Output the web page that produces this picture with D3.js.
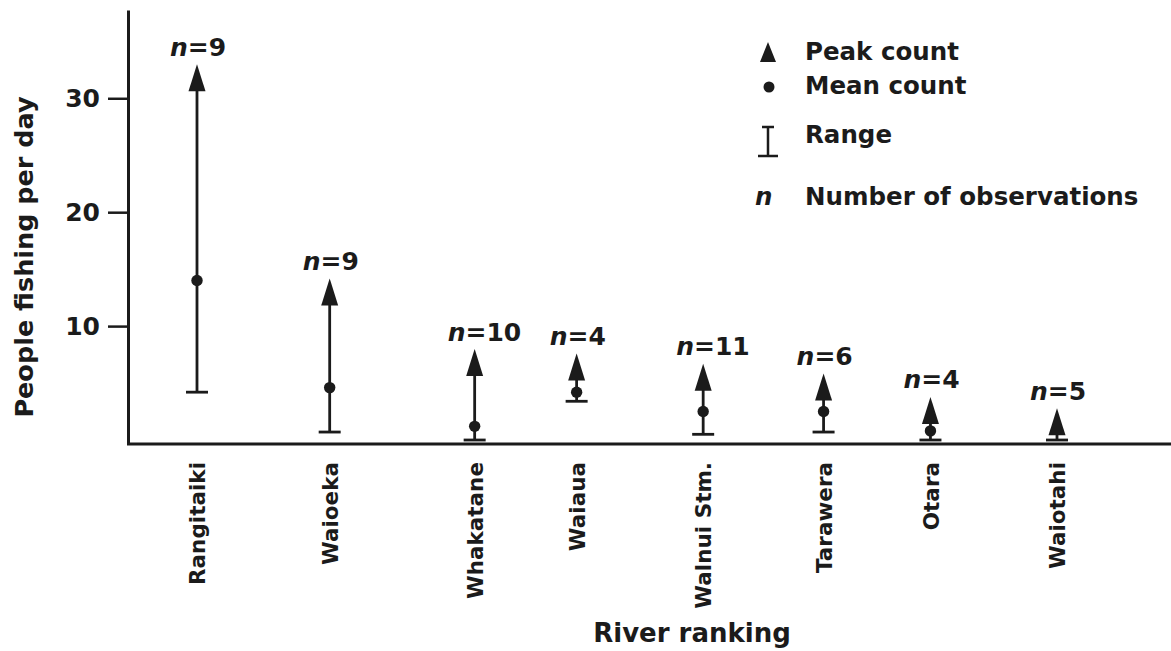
<!DOCTYPE html>
<html>
<head>
<meta charset="utf-8">
<script src="https://cdn.jsdelivr.net/npm/d3@7"></script>
<style>
  html, body { margin: 0; padding: 0; background: #fff; }
  svg { display: block; font-family: "DejaVu Sans", sans-serif; font-weight: bold; }
</style>
</head>
<body>
<svg id="chart" width="1171" height="651"></svg>
<script>
// Rivers in ranking order, with their position along the ranking axis
const rivers = ["Rangitaiki", "Waioeka", "Whakatane", "Waiaua", "Walnui Stm.", "Tarawera", "Otara", "Waiotahi"];
const rankPosition = [1, 2.08, 3.26, 4.09, 5.12, 6.1, 6.97, 8];

// People fishing per day
const peakCount = [31.8, 13.0, 6.8, 6.4, 5.5, 4.65, 2.6, 1.6];
const meanCount = [14.0, 4.6, 1.2, 4.2, 2.5, 2.5, 0.8, null];
const rangeMin  = [4.2, 0.7, 0, 3.4, 0.5, 0.7, 0, 0];
const observations = [9, 9, 10, 4, 11, 6, 4, 5];

const yTicks = [10, 20, 30];
const legendItems = ["Peak count", "Mean count", "Range", "Number of observations"];

const ink = "#1b1b1b";
const svg = d3.select("#chart");

const x = d3.scaleLinear().domain([1, 8]).range([197, 1057]);
const y = d3.scaleLinear().domain([-0.35, 37.75]).range([444, 10]);

const axisLeftX = 128;
const rows = rivers.map((r, i) => ({
  river: r, pos: rankPosition[i], peak: peakCount[i], mean: meanCount[i],
  min: rangeMin[i], n: observations[i]
}));

// Y axis (line + ticks)
const yAxis = svg.append("g")
  .attr("transform", `translate(${axisLeftX},0)`)
  .call(d3.axisLeft(y).tickValues(yTicks).tickSize(20).tickSizeOuter(0).tickPadding(8));
yAxis.select(".domain").attr("stroke", ink).attr("stroke-width", 3);
yAxis.selectAll(".tick line").attr("stroke", ink).attr("stroke-width", 2.5);
yAxis.selectAll(".tick text")
  .attr("fill", ink)
  .style("font-family", '"DejaVu Sans", sans-serif')
  .style("font-weight", "bold")
  .style("font-size", "25px");

// Baseline
svg.append("line")
  .attr("x1", axisLeftX - 1).attr("x2", 1171)
  .attr("y1", y(-0.35)).attr("y2", y(-0.35))
  .attr("stroke", ink).attr("stroke-width", 3);

// River labels, rotated
const xAxis = svg.append("g")
  .attr("transform", `translate(0,${y(-0.35)})`)
  .call(d3.axisBottom(x).tickValues(rankPosition).tickFormat((d, i) => rivers[i]).tickSize(0));
xAxis.select(".domain").remove();
xAxis.selectAll(".tick text")
  .attr("fill", ink)
  .attr("transform", "rotate(-90)")
  .attr("text-anchor", "end")
  .attr("x", -18).attr("y", 0).attr("dy", "0.36em")
  .style("font-family", '"DejaVu Sans", sans-serif')
  .style("font-weight", "bold")
  .style("font-size", "21.5px");

// Axis titles
svg.append("text")
  .attr("transform", `translate(33,257) rotate(-90)`)
  .attr("text-anchor", "middle")
  .attr("fill", ink)
  .style("font-size", "25.5px")
  .text("People fishing per day");

svg.append("text")
  .attr("x", 692).attr("y", 642)
  .attr("text-anchor", "middle")
  .attr("fill", ink)
  .style("font-size", "26px")
  .text("River ranking");

// Marks
const tri = "M0,-13.5L8.5,13.5L-8.5,13.5Z";
const g = svg.append("g").selectAll("g.river").data(rows).join("g").attr("class", "river");

g.append("line")
  .attr("x1", d => x(d.pos)).attr("x2", d => x(d.pos))
  .attr("y1", d => y(d.min)).attr("y2", d => y(d.peak))
  .attr("stroke", ink).attr("stroke-width", 2.8);

g.append("line")
  .attr("x1", d => x(d.pos) - 11).attr("x2", d => x(d.pos) + 11)
  .attr("y1", d => y(d.min)).attr("y2", d => y(d.min))
  .attr("stroke", ink).attr("stroke-width", 2.8);

g.filter(d => d.mean != null).append("circle")
  .attr("cx", d => x(d.pos)).attr("cy", d => y(d.mean))
  .attr("r", 5.7).attr("fill", ink);

g.append("path")
  .attr("d", tri)
  .attr("transform", d => `translate(${x(d.pos)},${y(d.peak)})`)
  .attr("fill", ink);

const lbl = g.append("text")
  .attr("x", d => x(d.pos) - 27)
  .attr("y", d => y(d.peak) - 22)
  .attr("fill", ink)
  .style("font-size", "25px");
lbl.append("tspan").style("font-style", "italic").text("n");
lbl.append("tspan").text(d => "=" + d.n);

// Legend
const lg = svg.append("g");
const lx = 768, tx = 805;
const lBase = [60, 94, 143, 205];

lg.append("path").attr("d", "M0,-10L8,10L-8,10Z")
  .attr("transform", `translate(${lx},${lBase[0] - 8})`).attr("fill", ink);
lg.append("circle").attr("cx", lx + 1).attr("cy", lBase[1] - 7).attr("r", 5.5).attr("fill", ink);
lg.append("path")
  .attr("d", `M${lx - 6},${lBase[2] - 16}H${lx + 6}M${lx},${lBase[2] - 16}V${lBase[2] + 13}M${lx - 10},${lBase[2] + 13}H${lx + 10}`)
  .attr("stroke", ink).attr("stroke-width", 2.5).attr("fill", "none");
lg.append("text").attr("x", lx - 13).attr("y", lBase[3])
  .style("font-style", "italic").style("font-size", "24.5px").attr("fill", ink).text("n");

lg.selectAll("text.item").data(legendItems).join("text")
  .attr("class", "item")
  .attr("x", tx).attr("y", (d, i) => lBase[i])
  .attr("fill", ink)
  .style("font-size", "24.5px")
  .text(d => d);
</script>
</body>
</html>
